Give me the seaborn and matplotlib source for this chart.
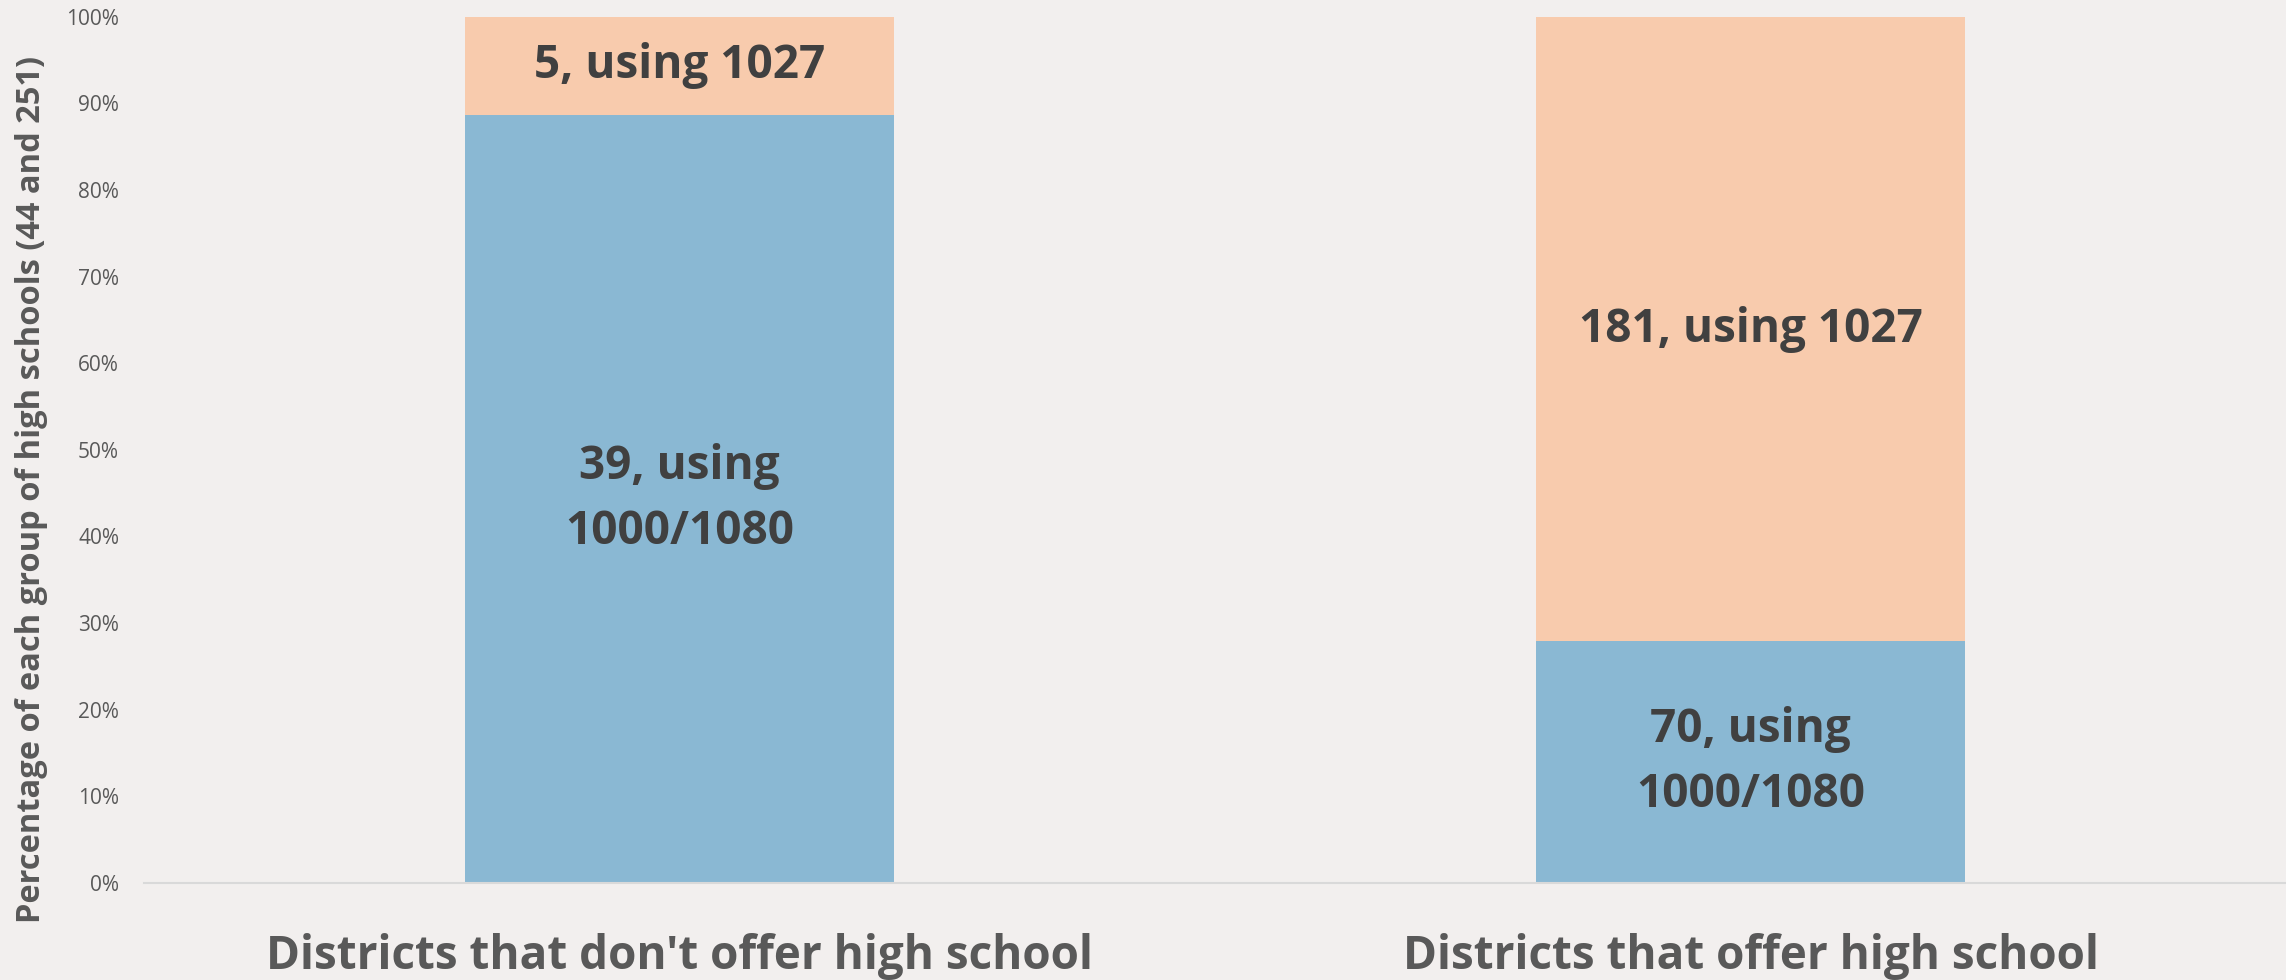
import matplotlib

matplotlib.use("Agg")
import matplotlib.pyplot as plt  # noqa: E402
import pandas as pd  # noqa: E402
import seaborn as sns  # noqa: E402
from matplotlib.ticker import PercentFormatter  # noqa: E402

# data
categories = ["Districts that don't offer high school", "Districts that offer high school"]
using_1000_1080 = [39, 70]
using_1027 = [5, 181]

BG = "#F2EFEE"
BLUE = "#8AB8D3"
ORANGE = "#F8CBAD"
LABEL_DARK = "#404040"
GREY_TXT = "#595959"

totals = [a + b for a, b in zip(using_1000_1080, using_1027)]
df = pd.DataFrame({
    "category": categories,
    "blue": [a / t for a, t in zip(using_1000_1080, totals)],
    "orange": [b / t for b, t in zip(using_1027, totals)],
})
df["top"] = df["blue"] + df["orange"]

sns.set_style("white")
plt.rcParams["font.family"] = ["Open Sans", "DejaVu Sans"]

fig = plt.figure(figsize=(22.86, 9.8), dpi=100, facecolor=BG)
ax = fig.add_axes([0.063, 0.099, 0.937, 0.884])
ax.set_facecolor(BG)

# stacked look: full-height orange bars, blue share drawn over them
sns.barplot(ax=ax, data=df, x="category", y="top", color=ORANGE, width=0.4,
            saturation=1, linewidth=0)
sns.barplot(ax=ax, data=df, x="category", y="blue", color=BLUE, width=0.4,
            saturation=1, linewidth=0)

for i, row in df.iterrows():
    ax.text(i, row["blue"] / 2, f"{using_1000_1080[i]}, using\n1000/1080",
            ha="center", va="center", fontsize=33, fontweight="bold",
            color=LABEL_DARK, linespacing=1.5)
    ax.text(i, row["blue"] + row["orange"] / 2, f"{using_1027[i]}, using 1027",
            ha="center", va="center", fontsize=33, fontweight="bold",
            color=LABEL_DARK)

ax.set_xlim(-0.5, 1.5)
ax.set_ylim(0, 1)
ax.set_yticks([i / 10 for i in range(11)])
ax.yaxis.set_major_formatter(PercentFormatter(1.0, decimals=0))
ax.tick_params(axis="y", length=0, pad=18, labelsize=15, labelcolor=GREY_TXT)
ax.tick_params(axis="x", length=0, pad=36, labelsize=33, labelcolor=GREY_TXT)
for lbl in ax.get_xticklabels():
    lbl.set_fontweight("bold")

ax.set_xlabel("")
ax.set_ylabel("Percentage of each group of high schools (44 and 251)",
              fontsize=23.5, fontweight="bold", color=GREY_TXT)
ax.yaxis.set_label_coords(-0.045, 0.454)

for side in ["top", "right", "left"]:
    ax.spines[side].set_visible(False)
ax.spines["bottom"].set_color("#D9D9D9")
ax.spines["bottom"].set_linewidth(1.5)

fig.savefig("out.png", dpi=100, facecolor=BG)
